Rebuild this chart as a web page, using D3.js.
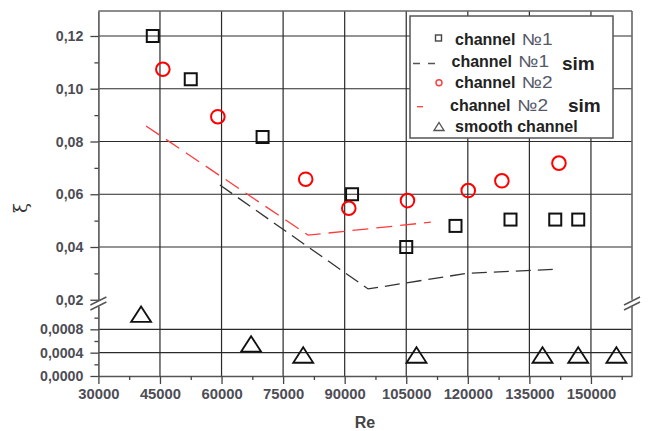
<!DOCTYPE html>
<html>
<head>
<meta charset="utf-8">
<script src="https://cdn.jsdelivr.net/npm/d3@7"></script>
<style>
html,body{margin:0;padding:0;background:#fff;}
svg{display:block;}
</style>
</head>
<body>
<svg id="chart" width="649" height="431"></svg>
<script>
// ---- data ----
const xTicks = [30000, 45000, 60000, 75000, 90000, 105000, 120000, 135000, 150000];
const xMinorTicks = [37500, 52500, 67500, 82500, 97500, 112500, 127500, 142500, 157500];
const yTicksUpper = [0.02, 0.04, 0.06, 0.08, 0.10, 0.12];
const yTickLabelsUpper = ["0,02", "0,04", "0,06", "0,08", "0,10", "0,12"];
const yMinorUpper = [0.03, 0.05, 0.07, 0.09, 0.11];
const yTicksLower = [0, 0.0004, 0.0008];
const yTickLabelsLower = ["0,0000", "0,0004", "0,0008"];
const yMinorLower = [0.0002, 0.0006, 0.001];

const ch1Re = [43250, 52500, 70000, 91800, 105000, 117000, 130400, 141300, 146900];
const ch1Xi = [0.120, 0.1036, 0.0817, 0.0600, 0.0400, 0.0480, 0.0504, 0.0504, 0.0504];

const ch1SimRe = [59600, 95700, 119700, 140800];
const ch1SimXi = [0.0635, 0.0241, 0.0300, 0.0315];

const ch2Re = [45700, 59100, 80500, 91000, 105300, 120100, 128300, 142200];
const ch2Xi = [0.1074, 0.0894, 0.0657, 0.0547, 0.0576, 0.0614, 0.0651, 0.0718];

const ch2SimRe = [41600, 81100, 111000];
const ch2SimXi = [0.0859, 0.0445, 0.0494];

const smoothRe = [40400, 67200, 79900, 107500, 138200, 146900, 156200];
const smoothXi = [0.00106, 0.00055, 0.00036, 0.00036, 0.00036, 0.00036, 0.00036];

const legendLabels = ["channel", "channel", "channel", "channel", "smooth channel"];
const legendNo = ["№1", "№1", "№2", "№2", ""];
const legendSim = ["", "sim", "", "sim", ""];

// ---- layout ----
const svg = d3.select("#chart");
const FONT = "'Liberation Sans', Arial, sans-serif";
const x = d3.scaleLinear([30000, 160000], [98.4, 632]);
const yU = d3.scaleLinear([0.02, 0.1295], [299.75, 10.94]);
const yL = d3.scaleLinear([0, 0.0012], [376, 306]);
const pTop = yU.range()[1], pBottom = yL.range()[0];
const pLeft = x.range()[0], pRight = x.range()[1];

const gridColor = "#2a2a2a";
const grid = svg.append("g").attr("stroke", gridColor).attr("stroke-width", 1.2);
grid.selectAll("line.v").data(xTicks.slice(1)).join("line").attr("class", "v")
  .attr("x1", d => x(d)).attr("x2", d => x(d))
  .attr("y1", pTop).attr("y2", pBottom);
grid.selectAll("line.hu").data(yTicksUpper.slice(1)).join("line").attr("class", "hu")
  .attr("x1", pLeft).attr("x2", pRight)
  .attr("y1", d => yU(d)).attr("y2", d => yU(d));
grid.selectAll("line.hl").data(yTicksLower.slice(1)).join("line").attr("class", "hl")
  .attr("x1", pLeft).attr("x2", pRight)
  .attr("y1", d => yL(d)).attr("y2", d => yL(d));

// frame top & right
svg.append("line").attr("x1", pLeft).attr("x2", pRight).attr("y1", pTop).attr("y2", pTop)
  .attr("stroke", "#666").attr("stroke-width", 1.6);
svg.append("line").attr("x1", pRight).attr("x2", pRight).attr("y1", pTop).attr("y2", yU.range()[0])
  .attr("stroke", "#666").attr("stroke-width", 1.6);
svg.append("line").attr("x1", pRight).attr("x2", pRight).attr("y1", yL.range()[1]).attr("y2", pBottom)
  .attr("stroke", "#666").attr("stroke-width", 1.6);

function styleAxis(g, fs) {
  g.select(".domain").attr("stroke", "#555").attr("stroke-width", 1.6);
  g.selectAll(".tick line").attr("stroke", "#444").attr("stroke-width", 1.3);
  g.selectAll(".tick text").attr("font-family", FONT).attr("font-weight", "bold")
    .attr("font-size", fs).attr("fill", "#4d4d55");
}

const gyU = svg.append("g").attr("transform", `translate(${pLeft},0)`)
  .call(d3.axisLeft(yU).tickValues(yTicksUpper).tickSize(8).tickSizeOuter(0).tickPadding(7)
    .tickFormat((d, i) => yTickLabelsUpper[i]));
styleAxis(gyU, 14.2);
const gyUm = svg.append("g").attr("transform", `translate(${pLeft},0)`)
  .call(d3.axisLeft(yU).tickValues(yMinorUpper).tickSize(4).tickSizeOuter(0).tickFormat(""));
styleAxis(gyUm, 11);
gyUm.select(".domain").remove();

const gyL = svg.append("g").attr("transform", `translate(${pLeft},0)`)
  .call(d3.axisLeft(yL).tickValues(yTicksLower).tickSize(8).tickSizeOuter(0).tickPadding(7)
    .tickFormat((d, i) => yTickLabelsLower[i]));
styleAxis(gyL, 14.2);
const gyLm = svg.append("g").attr("transform", `translate(${pLeft},0)`)
  .call(d3.axisLeft(yL).tickValues(yMinorLower).tickSize(4).tickSizeOuter(0).tickFormat(""));
styleAxis(gyLm, 11);
gyLm.select(".domain").remove();

const gx = svg.append("g").attr("transform", `translate(0,${pBottom})`)
  .call(d3.axisBottom(x).tickValues(xTicks).tickSize(8).tickSizeOuter(0).tickPadding(4)
    .tickFormat(d3.format("d")));
styleAxis(gx, 14.8);
const gxm = svg.append("g").attr("transform", `translate(0,${pBottom})`)
  .call(d3.axisBottom(x).tickValues(xMinorTicks).tickSize(4).tickSizeOuter(0).tickFormat(""));
styleAxis(gxm, 11);
gxm.select(".domain").remove();

function breakMark(cx, cy) {
  const g = svg.append("g").attr("transform", `translate(${cx},${cy})`);
  g.append("path").attr("d", "M-8,5L8,-3L8,2L-8,10Z").attr("fill", "#fff");
  g.append("line").attr("x1", -8).attr("y1", 5).attr("x2", 8).attr("y2", -3)
    .attr("stroke", "#555").attr("stroke-width", 1.4);
  g.append("line").attr("x1", -8).attr("y1", 10).attr("x2", 8).attr("y2", 2)
    .attr("stroke", "#555").attr("stroke-width", 1.4);
}
breakMark(pLeft, 300);
breakMark(pRight, 300);

svg.append("text").attr("x", 365).attr("y", 428).attr("text-anchor", "middle")
  .attr("font-family", FONT).attr("font-weight", "bold").attr("font-size", 16)
  .attr("fill", "#444").text("Re");
svg.append("text").attr("transform", "translate(27,208) rotate(-90)")
  .attr("text-anchor", "middle").attr("font-family", "'DejaVu Serif', serif")
  .attr("font-size", 18).attr("fill", "#333").text("ξ");

const lineU = d3.line().x(d => x(d[0])).y(d => yU(d[1]));
svg.append("path").datum(d3.zip(ch1SimRe, ch1SimXi)).attr("d", lineU)
  .attr("fill", "none").attr("stroke", "#333").attr("stroke-width", 1.3)
  .attr("stroke-dasharray", "15,7");
svg.append("path").datum(d3.zip(ch2SimRe, ch2SimXi)).attr("d", lineU)
  .attr("fill", "none").attr("stroke", "#ff3b3b").attr("stroke-width", 1.3)
  .attr("stroke-dasharray", "16,8");

svg.append("g").selectAll("rect").data(d3.zip(ch1Re, ch1Xi)).join("rect")
  .attr("x", d => x(d[0]) - 6).attr("y", d => yU(d[1]) - 6)
  .attr("width", 12).attr("height", 12)
  .attr("fill", "none").attr("stroke", "#111").attr("stroke-width", 2);

svg.append("g").selectAll("circle").data(d3.zip(ch2Re, ch2Xi)).join("circle")
  .attr("cx", d => x(d[0])).attr("cy", d => yU(d[1])).attr("r", 6.8)
  .attr("fill", "none").attr("stroke", "#ff0000").attr("stroke-width", 2);

const triW = 20, triH = 15.5;
const triPath = (w, h) => `M0,${-h / 2}L${w / 2},${h / 2}L${-w / 2},${h / 2}Z`;
svg.append("g").selectAll("path").data(d3.zip(smoothRe, smoothXi)).join("path")
  .attr("transform", d => `translate(${x(d[0])},${yL(d[1])})`)
  .attr("d", triPath(triW, triH))
  .attr("fill", "none").attr("stroke", "#111").attr("stroke-width", 1.8);

// legend
const lg = svg.append("g");
lg.append("rect").attr("x", 410).attr("y", 16).attr("width", 203).attr("height", 122)
  .attr("fill", "#fff").attr("stroke", "#555").attr("stroke-width", 1.5);
const rowBase = [44.5, 67, 88, 110.5, 131.5];
const textX = [455, 451.5, 455, 450, 455];
const noX = [521.5, 518, 521.5, 517, 0];
const simX = [0, 562, 0, 568, 0];
const simBase = [0, 70, 0, 112, 0];
lg.append("rect").attr("x", 435.5).attr("y", 35).attr("width", 6).attr("height", 6)
  .attr("fill", "none").attr("stroke", "#444").attr("stroke-width", 1.4);
lg.append("line").attr("x1", 413).attr("x2", 437).attr("y1", 63.5).attr("y2", 63.5)
  .attr("stroke", "#555").attr("stroke-width", 1.3).attr("stroke-dasharray", "7,8");
lg.append("circle").attr("cx", 439).attr("cy", 82.7).attr("r", 3)
  .attr("fill", "none").attr("stroke", "#ff3b3b").attr("stroke-width", 1.4);
lg.append("line").attr("x1", 417).attr("x2", 423).attr("y1", 106.7).attr("y2", 106.7)
  .attr("stroke", "#ff3b3b").attr("stroke-width", 1.3);
lg.append("path").attr("transform", "translate(439,126.5)").attr("d", triPath(10, 8))
  .attr("fill", "none").attr("stroke", "#555").attr("stroke-width", 1.4);
legendLabels.forEach((lab, i) => {
  lg.append("text").attr("x", textX[i]).attr("y", rowBase[i])
    .attr("font-family", FONT).attr("font-weight", "bold").attr("font-size", 16)
    .attr("fill", "#222").text(lab);
  if (legendNo[i]) {
    lg.append("text").attr("x", noX[i]).attr("y", rowBase[i])
      .attr("font-family", FONT).attr("font-size", 16)
      .attr("textLength", 31).attr("lengthAdjust", "spacingAndGlyphs")
      .attr("fill", "#55596a").text(legendNo[i]);
  }
  if (legendSim[i]) {
    lg.append("text").attr("x", simX[i]).attr("y", simBase[i])
      .attr("font-family", FONT).attr("font-weight", "bold").attr("font-size", 19)
      .attr("fill", "#222").text(legendSim[i]);
  }
});
</script>
</body>
</html>
